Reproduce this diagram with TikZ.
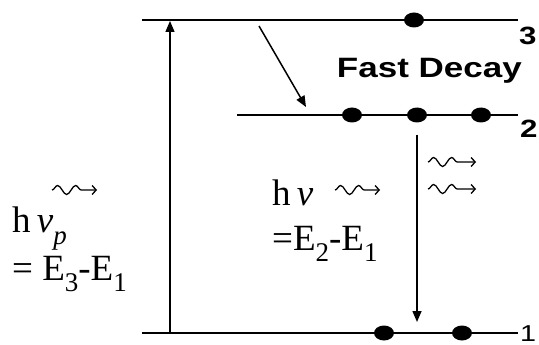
\documentclass[tikz,border=0pt]{standalone}
\usepackage{fontspec}
\setmainfont{Liberation Serif}
\newfontfamily\widesans[FakeStretch=1.25]{Liberation Sans}
\usetikzlibrary{arrows.meta,shapes.geometric,decorations.pathmorphing}

\newcommand{\lvsub}[1]{\raisebox{-0.3em}{\fontsize{27}{27}\selectfont #1}}

\begin{document}
\begin{tikzpicture}[
  x=1pt,y=-1pt,
  level/.style={draw=black,line width=1.8pt},
  dot/.style={ellipse,fill=black,inner sep=0pt,minimum width=20pt,minimum height=15pt},
  flow/.style={-{Triangle[length=11pt,width=9pt]},draw=black,line width=1.5pt},
  wave/.style={-{Straight Barb[length=4pt,width=9pt]},line width=1.3pt,decorate,
    decoration={snake,amplitude=4.5pt,segment length=18pt,post length=15pt}},
  formula/.style={font=\fontsize{37}{42}\selectfont,inner sep=0pt,anchor=base west},
  levelnum/.style={font=\widesans\bfseries\fontsize{25}{26}\selectfont,inner sep=0pt}
]
\useasboundingbox (0,0) rectangle (539,345);

\coordinate (l3w) at (142,20);  \coordinate (l3e) at (518,20);
\coordinate (l2w) at (237,115); \coordinate (l2e) at (518,115);
\coordinate (l1w) at (142,333); \coordinate (l1e) at (518,333);
\draw[level] (l3w) -- (l3e);
\draw[level] (l2w) -- (l2e);
\draw[level] (l1w) -- (l1e);

\node[dot] (d3) at (414,20) {};
\node[dot] (d2a) at (352,115) {};
\node[dot] (d2b) at (417,115) {};
\node[dot] (d2c) at (481,115) {};
\node[dot] (d1a) at (384,333) {};
\node[dot] (d1b) at (462,333) {};

\node[levelnum,anchor=base west] (n3) at (519,45) {3};
\node[levelnum,anchor=base west] (n2) at (520,138) {2};
\node[font=\widesans\fontsize{23}{24}\selectfont,inner sep=0pt,anchor=base west] (n1) at (520,341) {1};
\node[font=\widesans\bfseries\fontsize{28}{30}\selectfont,anchor=base east,inner sep=0pt] (decay) at (522,78) {Fast Decay};

\coordinate (pumpfoot) at (170,333);
\coordinate (pumptop) at (170,21);
\draw[flow,line width=1.3pt] (pumpfoot) -- (pumptop);
\coordinate (decayfrom) at (259,26);
\coordinate (decayto) at (306,107);
\draw[flow] (decayfrom) -- (decayto);
\coordinate (lasend) at (417,322);
\draw[flow] ([yshift=-12pt]d2b.south) -- (lasend);

\node[formula] (pumphv) at (12,233) {h\,\textit{ν}\lvsub{\textit{p}}};
\node[formula] (pumpE) at (12,280) {= E\lvsub{3}-E\lvsub{1}};
\node[formula] (laserhv) at (272,205) {h\,\textit{ν}};
\node[formula] (laserE) at (272,250) {=E\lvsub{2}-E\lvsub{1}};

\coordinate (wp0) at (52,190);  \coordinate (wp1) at (97,190);
\coordinate (wl0) at (335,190); \coordinate (wl1) at (380,190);
\coordinate (wr0) at (428,162); \coordinate (wr1) at (476,162);
\coordinate (ws0) at (428,189); \coordinate (ws1) at (476,189);
\draw[wave] (wp0) -- (wp1);
\draw[wave] (wl0) -- (wl1);
\draw[wave] (wr0) -- (wr1);
\draw[wave] (ws0) -- (ws1);
\end{tikzpicture}
\end{document}
